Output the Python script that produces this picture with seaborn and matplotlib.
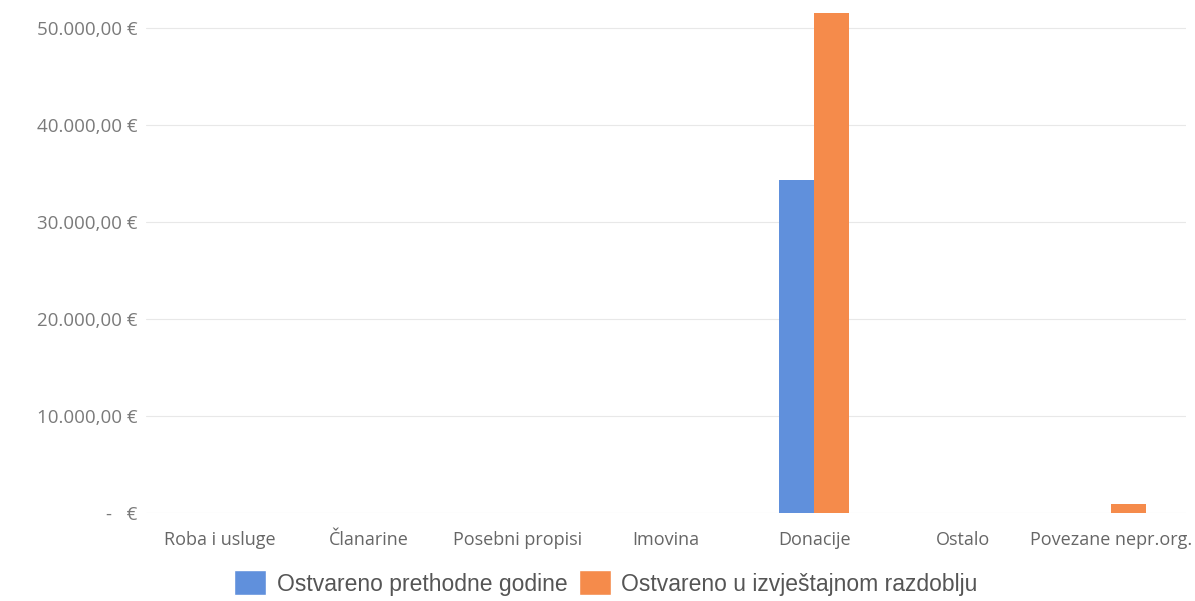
import matplotlib
matplotlib.use("Agg")
import matplotlib.pyplot as plt
import matplotlib.ticker as mticker
from matplotlib import font_manager
from matplotlib.patches import Patch
import seaborn as sns
import pandas as pd

categories = ["Roba i usluge", "Članarine", "Posebni propisi", "Imovina",
              "Donacije", "Ostalo", "Povezane nepr.org."]
series_names = ["Ostvareno prethodne godine", "Ostvareno u izvještajnom razdoblju"]
prev_year = [0, 0, 0, 0, 34300, 0, 0]
current = [0, 0, 0, 0, 51600, 0, 950]
colors = ["#6090dc", "#f58b4b"]
y_ticks = [0, 10000, 20000, 30000, 40000, 50000]

rows = []
for c, v in zip(categories, prev_year):
    rows.append({"cat": c, "series": series_names[0], "val": v})
for c, v in zip(categories, current):
    rows.append({"cat": c, "series": series_names[1], "val": v})
df = pd.DataFrame(rows)

sns.set_style("white")
plt.rcParams['font.family'] = ['Open Sans', 'DejaVu Sans']

names = {f.name for f in font_manager.fontManager.ttflist}
legend_family = ["Liberation Sans Narrow", "DejaVu Sans"] if "Liberation Sans Narrow" in names \
    else ["Liberation Sans", "DejaVu Sans"]
legend_size = 18 if "Liberation Sans Narrow" in names else 16.5

fig = plt.figure(figsize=(11.95, 6.01), dpi=100)
ax = fig.add_axes([0.1222, 0.1464, 0.870, 0.847])
sns.barplot(data=df, x="cat", y="val", hue="series", order=categories,
            hue_order=series_names, palette=colors, width=0.47,
            saturation=1, ax=ax, legend=False, edgecolor="none")

ax.set_ylim(0, 52500)
ax.set_yticks(y_ticks)

def fmt(v, pos):
    if v == 0:
        return "-   €"
    s = f"{v:,.2f}".replace(",", "X").replace(".", ",").replace("X", ".")
    return s + " €"

ax.yaxis.set_major_formatter(mticker.FuncFormatter(fmt))
ax.grid(axis="y", color="#e8e8e8", linewidth=0.8)
ax.set_axisbelow(True)
for s in ax.spines.values():
    s.set_visible(False)
ax.set_xlabel("")
ax.set_ylabel("")
ax.tick_params(axis="y", length=0, pad=6, labelsize=13.5, labelcolor="#7a7a7a")
ax.tick_params(axis="x", length=0, pad=13, labelsize=13, labelcolor="#666666")

handles = [Patch(facecolor=colors[0], label=series_names[0]),
           Patch(facecolor=colors[1], label=series_names[1])]
leg = fig.legend(handles=handles, loc="center", bbox_to_anchor=(0.507, 0.030),
                 ncol=2, frameon=False, handlelength=1.4,
                 handleheight=1.3, columnspacing=0.5, handletextpad=0.45,
                 prop={"family": legend_family, "size": legend_size})
for t in leg.get_texts():
    t.set_color("#555555")

fig.savefig("out.png", dpi=100)
